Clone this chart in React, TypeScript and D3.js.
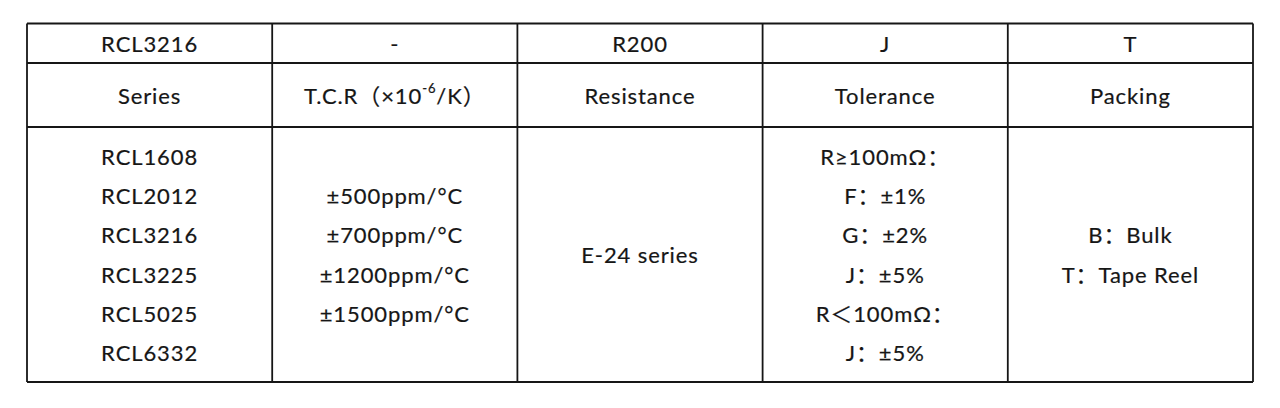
import * as d3 from "d3";

// Table contents
const codeParts = ["RCL3216", "-", "R200", "J", "T"];
const headers = ["Series", "TCR", "Resistance", "Tolerance", "Packing"];
const seriesList = ["RCL1608", "RCL2012", "RCL3216", "RCL3225", "RCL5025", "RCL6332"];
const tcrList = ["±500ppm/°C", "±700ppm/°C", "±1200ppm/°C", "±1500ppm/°C"];
const resistanceList = ["E-24 series"];
const toleranceList = ["R≥100mΩ：", "F：±1%", "G：±2%", "J：±5%", "R＜100mΩ：", "J：±5%"];
const packingList = ["B：Bulk", "T：Tape Reel"];

const bodyColumns = [seriesList, tcrList, resistanceList, toleranceList, packingList];

const W = 1280;
const H = 408;
const rowEdges = [23.5, 63, 127, 382];
const lineStep = 39.2;
const font = "Lato, 'Noto Sans', 'Noto Sans CJK SC', sans-serif";
const ink = "#161616";

export default function App() {
  const x = d3
    .scaleBand<number>()
    .domain(d3.range(codeParts.length))
    .range([27, 1253])
    .paddingInner(0)
    .paddingOuter(0);

  const colCenter = (i: number) => (x(i) ?? 0) + x.bandwidth() / 2;
  const rowCenter = (r: number) => (rowEdges[r] + rowEdges[r + 1]) / 2;

  const colEdges = d3.range(codeParts.length + 1).map((i) =>
    i < codeParts.length ? x(i)! : x(i - 1)! + x.bandwidth()
  );

  const textProps = {
    fontFamily: font,
    fontSize: 22,
    letterSpacing: 0.9,
    fill: ink,
    stroke: ink,
    strokeWidth: 0.2,
    textAnchor: "middle" as const,
    dominantBaseline: "central" as const,
  };

  return (
    <svg
      width={W}
      height={H}
      style={{ position: "fixed", left: 0, top: 0, background: "#fff" }}
    >
      <rect width={W} height={H} fill="#fff" />
      {/* grid lines */}
      <g stroke={ink} strokeWidth={1.8}>
        {rowEdges.map((y, i) => (
          <line key={"h" + i} x1={colEdges[0]} x2={colEdges[colEdges.length - 1]} y1={y} y2={y} />
        ))}
        {colEdges.map((cx, i) => (
          <line key={"v" + i} x1={cx} x2={cx} y1={rowEdges[0]} y2={rowEdges[rowEdges.length - 1]} />
        ))}
      </g>

      {/* code row */}
      {codeParts.map((t, i) => (
        <text key={"c" + i} x={colCenter(i)} y={rowCenter(0)} {...textProps}>
          {t}
        </text>
      ))}

      {/* header row */}
      {headers.map((t, i) =>
        t === "TCR" ? (
          <text key={"hd" + i} x={colCenter(i)} y={rowCenter(1)} {...textProps}>
            T.C.R（×10
            <tspan dy={-7} fontSize={13}>
              -6
            </tspan>
            <tspan dy={7}>/K）</tspan>
          </text>
        ) : (
          <text key={"hd" + i} x={colCenter(i)} y={rowCenter(1)} {...textProps}>
            {t}
          </text>
        )
      )}

      {/* body */}
      {bodyColumns.map((lines, ci) =>
        lines.map((t, li) => (
          <text
            key={ci + "-" + li}
            x={colCenter(ci)}
            y={rowCenter(2) + (li - (lines.length - 1) / 2) * lineStep}
            {...textProps}
          >
            {t}
          </text>
        ))
      )}
    </svg>
  );
}
